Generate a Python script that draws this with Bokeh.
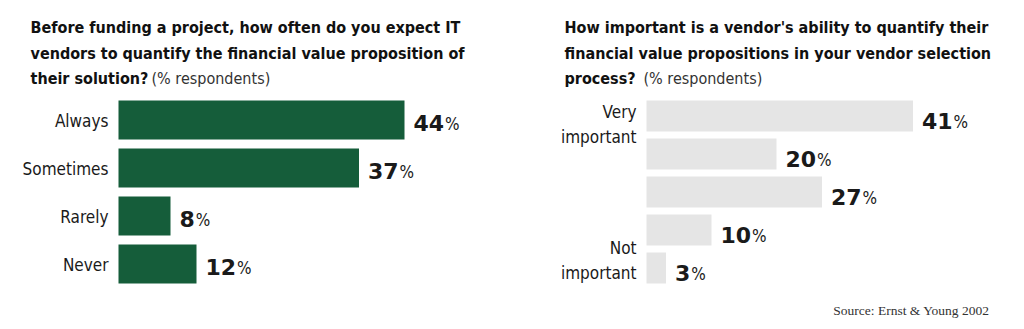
from bokeh.plotting import figure
from bokeh.models import ColumnDataSource, Range1d, Label
from bokeh.layouts import row
from bokeh.core.properties import value
from bokeh.embed import file_html
from bokeh.resources import INLINE

# ---- data ----
left_categories = ["Always", "Sometimes", "Rarely", "Never"]
left_values = [44, 37, 8, 12]
right_categories = ["Very\nimportant", "", "", "", "Not\nimportant"]
right_values = [41, 20, 27, 10, 3]
left_title = ["Before funding a project, how often do you expect IT",
              "vendors to quantify the financial value proposition of",
              "their solution?"]
right_title = ["How important is a vendor's ability to quantify their",
               "financial value propositions in your vendor selection",
               "process?"]
subtitle = "(% respondents)"
source_note = "Source: Ernst & Young 2002"

# ---- style ----
W, H = 512, 329
PX = 6.5  # pixels per percent
NARROW = "'DejaVu Sans Condensed', Roboto, sans-serif"
NUM_FONT = "DejaVu Sans"
TXT = "#1a1a1a"
GREEN = "#155d3a"
GRAY = "#e5e5e5"


def base_fig(x0_px, y_center0, spacing):
    top = -y_center0 / spacing
    bottom = (H - y_center0) / spacing
    p = figure(width=W, height=H, output_backend="svg", toolbar_location=None,
               x_range=Range1d(-x0_px / PX, (W - x0_px) / PX),
               y_range=Range1d(bottom, top), min_border=0,
               x_axis_location=None, y_axis_location=None,
               outline_line_color=None, background_fill_color="white",
               border_fill_color="white")
    p.xgrid.visible = False
    p.ygrid.visible = False
    return p


NUM_SIZE = 22
ADV = 0.696 * NUM_SIZE


def value_labels(p, src, dy):
    p.text(x="val", y="idx", text="num", source=src, x_offset=9, y_offset=dy,
           text_font=value(NUM_FONT), text_font_style="bold",
           text_font_size=f"{NUM_SIZE}px", text_color=TXT,
           text_baseline="middle", text_align="left")
    p.text(x="val", y="idx", text="pct", source=src, x_offset="poff", y_offset=dy + 1,
           text_font=value(NARROW), text_font_size="17px", text_color=TXT,
           text_baseline="middle", text_align="left")


def title_lines(p, lines, x0, sub_x):
    baselines = [302, 276, 251]
    for i, line in enumerate(lines):
        p.add_layout(Label(x=x0, y=baselines[i], x_units="screen", y_units="screen",
                           text=line, text_font=NARROW, text_font_style="bold",
                           text_font_size="16px", text_color="#111111",
                           text_baseline="alphabetic", text_align="left"))
    p.add_layout(Label(x=sub_x, y=baselines[2], x_units="screen", y_units="screen",
                       text=subtitle, text_font=NARROW, text_font_size="16px",
                       text_color="#333333", text_baseline="alphabetic",
                       text_align="left"))


# ---- left panel ----
lh = 0.81
pl = base_fig(118, 119.5, 48)
lsrc = ColumnDataSource(dict(
    idx=list(range(len(left_values))), val=left_values, cat=left_categories,
    num=[str(v) for v in left_values], pct=["%"] * len(left_values),
    poff=[9 + len(str(v)) * ADV + 1 for v in left_values]))
pl.hbar(y="idx", left=0, right="val", height=lh, source=lsrc,
        fill_color=GREEN, line_color=None)
pl.text(x=0, y="idx", text="cat", source=lsrc, x_offset=-10, y_offset=1,
        text_font=value(NARROW), text_font_size="17px", text_color=TXT,
        text_baseline="middle", text_align="right")
value_labels(pl, lsrc, 3)
title_lines(pl, left_title, 30, 151)

# ---- right panel ----
rh = 0.81
pr = base_fig(134, 115.5, 38)
rsrc = ColumnDataSource(dict(
    idx=list(range(len(right_values))), val=right_values,
    num=[str(v) for v in right_values], pct=["%"] * len(right_values),
    poff=[9 + len(str(v)) * ADV + 1 for v in right_values]))
pr.hbar(y="idx", left=0, right="val", height=rh, source=rsrc,
        fill_color=GRAY, line_color=None)
top_lab = ColumnDataSource(dict(y=[0 - rh / 2], t=[right_categories[0]]))
bot_lab = ColumnDataSource(dict(y=[len(right_values) - 1 + rh / 2], t=[right_categories[-1]]))
pr.text(x=0, y="y", text="t", source=top_lab, x_offset=-10, y_offset=1,
        text_font=value(NARROW), text_font_size="17px", text_color=TXT,
        text_baseline="top", text_align="right", text_line_height=1.25)
pr.text(x=0, y="y", text="t", source=bot_lab, x_offset=-10,
        text_font=value(NARROW), text_font_size="17px", text_color=TXT,
        text_baseline="bottom", text_align="right", text_line_height=1.25)
value_labels(pr, rsrc, 5)
title_lines(pr, right_title, 52, 131)
pr.add_layout(Label(x=477, y=19, x_units="screen", y_units="screen",
                    text=source_note, text_font="Liberation Serif",
                    text_font_size="13.5px", text_color="#333333",
                    text_baseline="alphabetic", text_align="right"))

layout = row(pl, pr)
open("out.html", "w").write(file_html(layout, INLINE))
